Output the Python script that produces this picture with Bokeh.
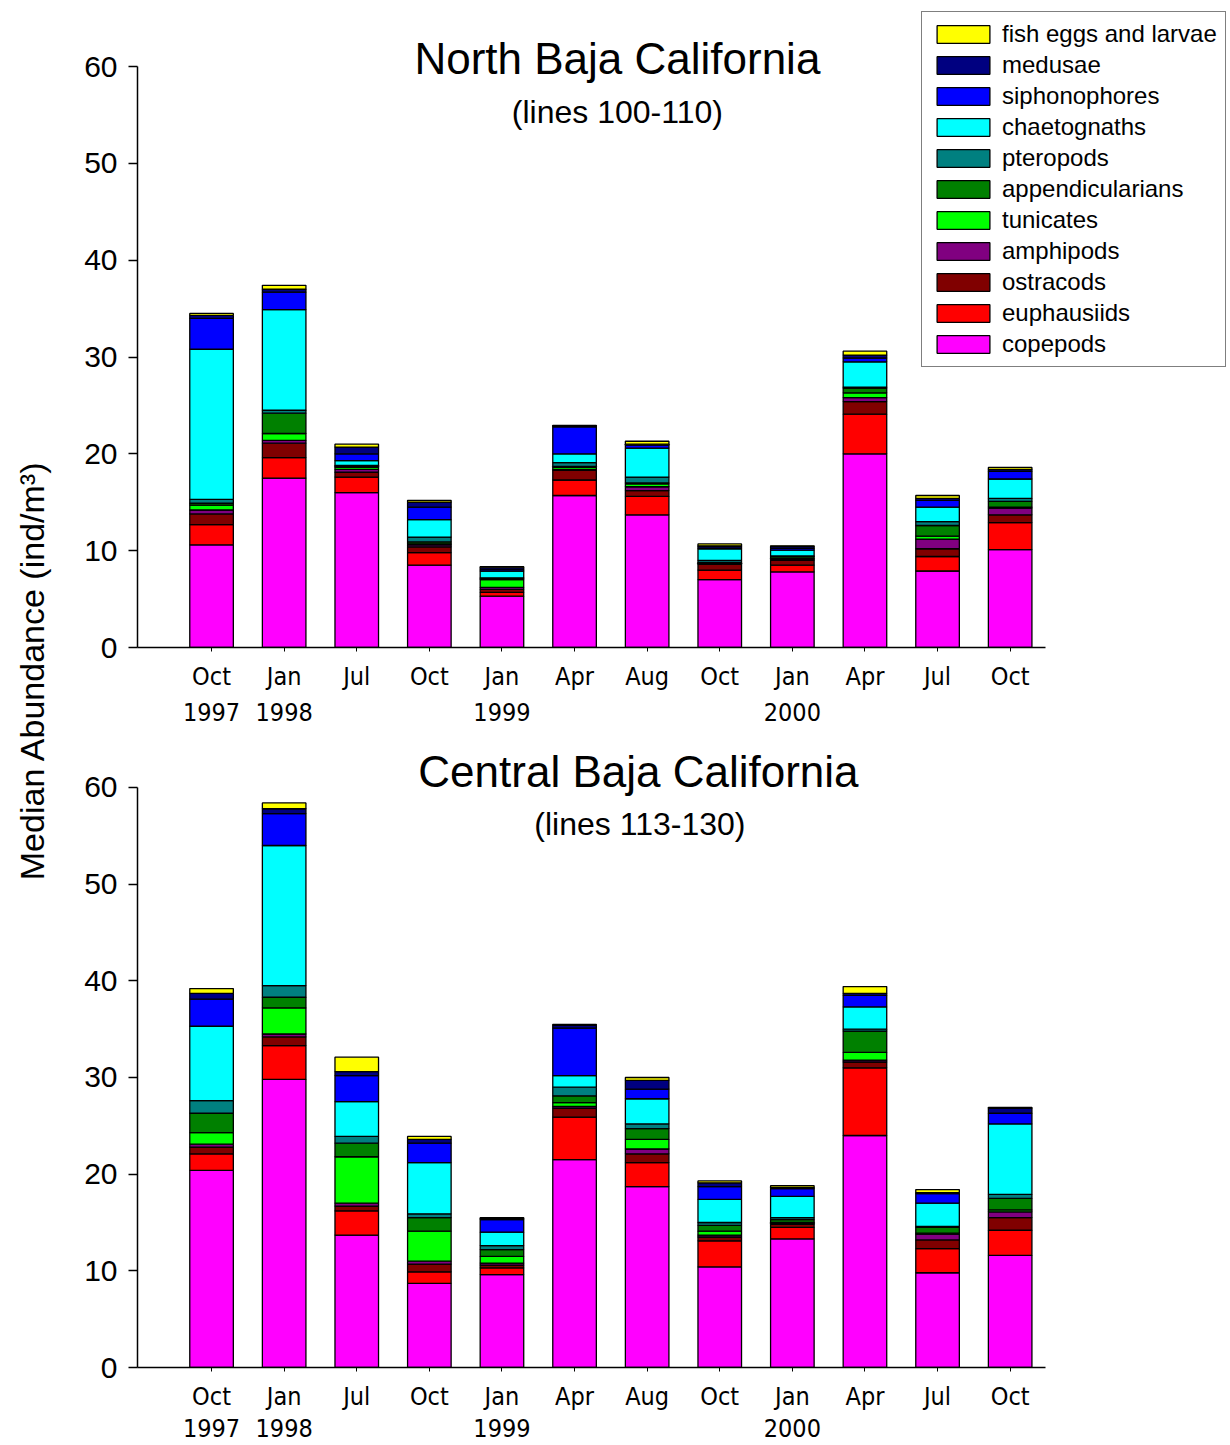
import math
from bokeh.plotting import figure
from bokeh.models import (ColumnDataSource, Legend, LegendItem, Label, FixedTicker,
                          Range1d, LinearAxis)
from bokeh.layouts import column, row
from bokeh.embed import file_html
from bokeh.resources import INLINE

# ---------------- data ----------------
months = ["Oct", "Jan", "Jul", "Oct", "Jan", "Apr", "Aug", "Oct", "Jan", "Apr", "Jul", "Oct"]
year_labels = ["1997", "1998", "1999", "2000"]
year_at = [0, 1, 4, 8]

groups = ["copepods", "euphausiids", "ostracods", "amphipods", "tunicates",
          "appendicularians", "pteropods", "chaetognaths", "siphonophores",
          "medusae", "fish eggs and larvae"]
colors = ["#FF00FF", "#FF0000", "#800000", "#800080", "#00FF00",
          "#008000", "#008080", "#00FFFF", "#0000FF", "#000080", "#FFFF00"]

# North Baja California (lines 100-110)
n_copepods = [10.6, 17.5, 16.0, 8.5, 5.3, 15.7, 13.7, 7.0, 7.8, 20.0, 7.9, 10.1]
n_euphausiids = [2.1, 2.1, 1.6, 1.3, 0.4, 1.6, 1.9, 1.0, 0.7, 4.1, 1.5, 2.8]
n_ostracods = [1.1, 1.5, 0.5, 0.6, 0.3, 1.0, 0.6, 0.6, 0.5, 1.3, 0.8, 0.8]
n_amphipods = [0.4, 0.3, 0.3, 0.2, 0.2, 0.1, 0.4, 0.1, 0.1, 0.4, 1.0, 0.7]
n_tunicates = [0.5, 0.7, 0.2, 0.1, 0.8, 0.2, 0.3, 0.05, 0.1, 0.5, 0.3, 0.1]
n_appendicularians = [0.2, 2.1, 0.1, 0.2, 0.1, 0.1, 0.1, 0.05, 0.2, 0.5, 1.1, 0.6]
n_pteropods = [0.4, 0.3, 0.1, 0.5, 0.1, 0.4, 0.6, 0.2, 0.05, 0.1, 0.4, 0.3]
n_chaetognaths = [15.5, 10.4, 0.5, 1.8, 0.7, 0.9, 3.0, 1.2, 0.6, 2.6, 1.5, 2.0]
n_siphonophores = [3.2, 1.8, 0.7, 1.3, 0.2, 2.8, 0.3, 0.2, 0.2, 0.4, 0.7, 0.8]
n_medusae = [0.3, 0.3, 0.7, 0.5, 0.2, 0.1, 0.1, 0.1, 0.2, 0.3, 0.2, 0.2]
n_fish = [0.2, 0.4, 0.3, 0.2, 0.05, 0.05, 0.3, 0.2, 0.05, 0.4, 0.3, 0.2]

# Central Baja California (lines 113-130)
c_copepods = [20.4, 29.8, 13.7, 8.7, 9.6, 21.5, 18.7, 10.4, 13.3, 24.0, 9.8, 11.6]
c_euphausiids = [1.7, 3.5, 2.5, 1.2, 0.7, 4.4, 2.5, 2.7, 1.2, 7.0, 2.5, 2.6]
c_ostracods = [0.7, 0.9, 0.5, 0.8, 0.3, 0.9, 0.9, 0.4, 0.3, 0.6, 0.9, 1.3]
c_amphipods = [0.3, 0.3, 0.3, 0.3, 0.2, 0.2, 0.5, 0.2, 0.1, 0.2, 0.6, 0.6]
c_tunicates = [1.2, 2.7, 4.8, 3.1, 0.7, 0.4, 1.0, 0.4, 0.1, 0.8, 0.1, 0.2]
c_appendicularians = [2.0, 1.1, 1.4, 1.4, 0.7, 0.7, 1.1, 0.6, 0.3, 2.2, 0.6, 1.2]
c_pteropods = [1.3, 1.2, 0.7, 0.4, 0.4, 0.9, 0.5, 0.3, 0.2, 0.2, 0.1, 0.4]
c_chaetognaths = [7.7, 14.5, 3.6, 5.3, 1.4, 1.2, 2.6, 2.4, 2.2, 2.3, 2.4, 7.3]
c_siphonophores = [2.8, 3.3, 2.7, 2.0, 1.3, 4.9, 1.0, 1.3, 0.8, 1.2, 1.0, 1.1]
c_medusae = [0.6, 0.5, 0.4, 0.4, 0.1, 0.3, 0.9, 0.4, 0.1, 0.2, 0.1, 0.5]
c_fish = [0.5, 0.6, 1.5, 0.3, 0.1, 0.1, 0.3, 0.2, 0.2, 0.7, 0.3, 0.1]

north = [n_copepods, n_euphausiids, n_ostracods, n_amphipods, n_tunicates,
         n_appendicularians, n_pteropods, n_chaetognaths, n_siphonophores,
         n_medusae, n_fish]
central = [c_copepods, c_euphausiids, c_ostracods, c_amphipods, c_tunicates,
           c_appendicularians, c_pteropods, c_chaetognaths, c_siphonophores,
           c_medusae, c_fish]

FONT = "Liberation Sans"
NARROW = "Liberation Sans Narrow, DejaVu Sans Condensed, Liberation Sans"

X_LO, X_AXIS_HI, X_HI = -1.02, 11.49, 13.98


def make_panel(series, title, subtitle, frame_h, y_top, b_bottom, year_standoff,
               title_xy, sub_xy, with_legend):
    p = figure(frame_width=1089, frame_height=frame_h,
               output_backend="svg", toolbar_location=None,
               x_range=Range1d(X_LO, X_HI), y_range=Range1d(0, y_top),
               min_border_left=79, min_border_right=0,
               min_border_top=0, min_border_bottom=b_bottom)
    p.outline_line_color = None
    p.grid.visible = False
    p.background_fill_color = "white"
    p.border_fill_color = "white"

    data = {"x": list(range(len(months)))}
    for g, vals in zip(groups, series):
        data[g] = vals
    src = ColumnDataSource(data)
    rs = p.vbar_stack(groups, x="x", width=0.6, color=colors, source=src,
                      line_color="black", line_width=1.3)

    # y axis
    ya = p.yaxis[0]
    ya.ticker = FixedTicker(ticks=[0, 10, 20, 30, 40, 50, 60])
    ya.bounds = (0, 60)
    ya.minor_tick_line_color = None
    ya.major_tick_in = 0
    ya.major_tick_out = 9
    ya.major_tick_line_width = 1.5
    ya.axis_line_width = 1.5
    ya.major_label_standoff = 11
    ya.major_label_text_font = FONT
    ya.major_label_text_font_size = "30px"
    ya.major_label_text_color = "black"

    # x axis (months)
    xa = p.xaxis[0]
    xa.ticker = FixedTicker(ticks=list(range(len(months))))
    xa.major_label_overrides = {i: m for i, m in enumerate(months)}
    xa.bounds = (X_LO, X_AXIS_HI)
    xa.minor_tick_line_color = None
    xa.major_tick_in = 0
    xa.major_tick_out = 4
    xa.axis_line_width = 1.5
    xa.major_label_standoff = 10
    xa.major_label_text_font = NARROW
    xa.major_label_text_font_size = "25px"
    xa.major_label_text_color = "black"

    # second row of x labels (years)
    yr_axis = LinearAxis(ticker=FixedTicker(ticks=year_at),
                         major_label_overrides={i: y for i, y in zip(year_at, year_labels)},
                         axis_line_color=None, major_tick_line_color=None,
                         minor_tick_line_color=None, major_tick_in=0, major_tick_out=0,
                         major_label_standoff=year_standoff,
                         major_label_text_font=NARROW, major_label_text_font_size="25px",
                         major_label_text_color="black")
    p.add_layout(yr_axis, "below")

    p.add_layout(Label(x=title_xy[0], y=title_xy[1], text=title, text_align="center",
                       text_baseline="middle", text_font=FONT,
                       text_font_size="44px", text_color="black"))
    p.add_layout(Label(x=sub_xy[0], y=sub_xy[1], text=subtitle, text_align="center",
                       text_baseline="middle", text_font=FONT,
                       text_font_size="32px", text_color="black"))

    if with_legend:
        items = [LegendItem(label=g, renderers=[r]) for g, r in zip(groups, rs)][::-1]
        leg = Legend(items=items, location=(784, 280), orientation="vertical",
                     glyph_width=66, glyph_height=22, label_height=22,
                     label_standoff=6, spacing=3, padding=8, margin=0,
                     label_text_font=FONT, label_text_font_size="24px",
                     label_text_color="black",
                     border_line_color="black", border_line_width=1,
                     background_fill_color="white", background_fill_alpha=1.0)
        p.add_layout(leg, "center")
    return p


# top panel: frame page y 0..647 (value 0 -> 647, 60 -> 66), canvas ends at 731
p1 = make_panel(north, "North Baja California", "(lines 100-110)",
                frame_h=647, y_top=66.82, b_bottom=84, year_standoff=9,
                title_xy=(5.59, 60.83), sub_xy=(5.59, 55.35), with_legend=True)
# bottom panel: frame page y 731..1367 (value 0 -> 1367, 60 -> 787)
p2 = make_panel(central, "Central Baja California", "(lines 113-130)",
                frame_h=636, y_top=65.79, b_bottom=76, year_standoff=5,
                title_xy=(5.88, 61.65), sub_xy=(5.9, 56.17), with_legend=False)

ylab = figure(width=58, height=1443, output_backend="svg", toolbar_location=None,
              x_range=Range1d(0, 1), y_range=Range1d(0, 1), min_border=0,
              x_axis_location=None, y_axis_location=None)
ylab.outline_line_color = None
ylab.grid.visible = False
ylab.add_layout(Label(x=0.55, y=0.539, text="Median Abundance  (ind/m\u00b3)",
                      angle=math.pi / 2, text_align="center", text_baseline="middle",
                      text_font=FONT, text_font_size="34px", text_color="black"))

layout = row(ylab, column(p1, p2, spacing=0), spacing=0)

open("out.html", "w").write(file_html(layout, INLINE))
